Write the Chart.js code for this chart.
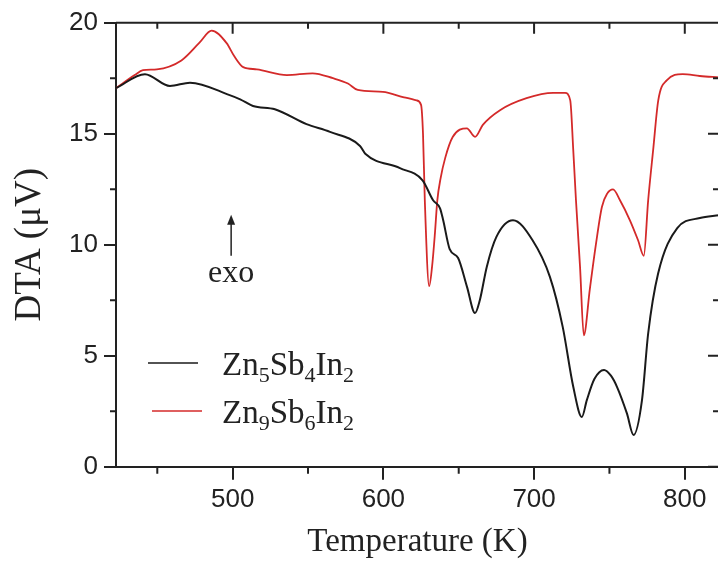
<!DOCTYPE html>
<html>
<head>
<title>DTA curves</title>
<style>
  html, body { margin: 0; padding: 0; overflow: hidden; background: #fff; }
</style>
</head>
<body>
<canvas id="dta" width="722" height="562"></canvas>
<script src="https://cdn.jsdelivr.net/npm/chart.js"></script>
<script>
// series names (digits become subscripts)
const names = ["Zn5Sb4In2", "Zn9Sb6In2"];

// Zn5Sb4In2 (black)
const tempA = [422.6, 441.8, 458.4, 471.7, 498, 505, 513.5, 528, 549, 564.6, 584.5, 588, 611, 626, 633, 637.6,
  639.7, 644, 649.6, 655.5, 660.8, 664, 668.6, 675, 686, 699, 710.5, 719, 726, 731.7, 735, 740, 746.4, 751, 755,
  761.6, 766, 771.6, 775.7, 782.3, 795, 810, 822.7];
const dtaA = [17.05, 17.68, 17.15, 17.3, 16.74, 16.55, 16.25, 16.1, 15.43, 15.08, 14.45, 14.1, 13.45, 12.9, 12.0, 11.64,
  11.1, 9.8, 9.4, 8.1, 6.92, 7.5, 9.0, 10.35, 11.1, 10.2, 8.55, 6.3, 3.6, 2.24, 3.0, 3.95, 4.36, 4.1, 3.6,
  2.4, 1.43, 3.0, 6.0, 8.7, 10.75, 11.2, 11.33];

// Zn9Sb6In2 (red)
const tempB = [422.6, 435, 440.5, 449.7, 466, 478, 486, 496, 501, 507, 516, 536, 553, 566.5, 576.5, 583, 599.7,
  613, 622, 625, 626.3, 627.5, 630.4, 632.3, 634.2, 635.8, 638, 641, 646, 655.4, 660.8, 666, 677.4, 695, 712.7, 720.6,
  724, 726, 727.8, 730.5, 733, 737, 741, 745, 748.5, 752.4, 757, 763.6, 769, 772.8, 775.7, 779, 782.4, 788,
  798.6, 810, 822.7];
const dtaB = [17.05, 17.64, 17.86, 17.9, 18.3, 19.1, 19.64, 19.08, 18.5, 18.0, 17.9, 17.64, 17.72, 17.5, 17.26, 16.97, 16.88,
  16.65, 16.5, 16.3, 15.0, 12.0, 8.13, 9.0, 10.5, 12.0, 13.0, 13.9, 14.85, 15.24, 14.86, 15.4, 16.06, 16.6, 16.84, 16.84,
  16.5, 14.26, 12.0, 9.0, 5.92, 8.0, 10.0, 11.7, 12.3, 12.49, 12.0, 11.1, 10.2, 9.5, 12.0, 14.26, 16.5, 17.4,
  17.68, 17.6, 17.54];

// axis ticks
const xMajor = [500, 600, 700, 800];
const xMinor = [450, 550, 650, 750];
const yMajor = [0, 5, 10, 15, 20];
const yMinor = [2.5, 7.5, 12.5, 17.5];

// "exo" arrow annotation (data coords)
const exoT = 499, exoFrom = 9.5, exoTo = 11.35, exoTextV = 8.3;

const ink = '#222';
const colors = ['#1a1a1a', '#d42a2a'];

function pts(xs, ys) { return xs.map((t, i) => ({ x: t, y: ys[i] })); }

const decor = {
  id: 'decor',
  afterDraw(chart) {
    const { ctx, chartArea: a, scales: { x, y } } = chart;
    ctx.save();
    ctx.strokeStyle = ink;
    ctx.lineWidth = 2;
    ctx.beginPath();
    // top and right frame
    ctx.moveTo(a.left, a.top); ctx.lineTo(a.right, a.top); ctx.lineTo(a.right, a.bottom);
    xMajor.forEach(v => { const p = x.getPixelForValue(v); ctx.moveTo(p, a.top); ctx.lineTo(p, a.top + 11); });
    xMinor.forEach(v => {
      const p = x.getPixelForValue(v);
      ctx.moveTo(p, a.top); ctx.lineTo(p, a.top + 6);
      ctx.moveTo(p, a.bottom); ctx.lineTo(p, a.bottom + 7);
    });
    yMajor.forEach(v => { const p = y.getPixelForValue(v); ctx.moveTo(a.right, p); ctx.lineTo(a.right - 11, p); });
    yMinor.forEach(v => {
      const p = y.getPixelForValue(v);
      ctx.moveTo(a.right, p); ctx.lineTo(a.right - 6, p);
      ctx.moveTo(a.left, p); ctx.lineTo(a.left - 6, p);
    });
    ctx.stroke();

    // exo arrow
    const ax = x.getPixelForValue(exoT);
    const y1 = y.getPixelForValue(exoFrom), y2 = y.getPixelForValue(exoTo);
    ctx.lineWidth = 1.5;
    ctx.beginPath(); ctx.moveTo(ax, y1); ctx.lineTo(ax, y2 + 6); ctx.stroke();
    ctx.fillStyle = ink;
    ctx.beginPath(); ctx.moveTo(ax, y2); ctx.lineTo(ax - 4, y2 + 10); ctx.lineTo(ax + 4, y2 + 10); ctx.closePath(); ctx.fill();
    ctx.font = '32px "Liberation Serif"';
    ctx.textAlign = 'center';
    ctx.textBaseline = 'alphabetic';
    ctx.fillText('exo', ax, y.getPixelForValue(exoTextV));

    // legend with subscripts
    const legX = [148, 152], legY = [363, 411];
    chart.data.datasets.forEach((ds, i) => {
      ctx.strokeStyle = ds.borderColor;
      ctx.lineWidth = 1.5;
      ctx.beginPath(); ctx.moveTo(legX[i], legY[i]); ctx.lineTo(legX[i] + 50, legY[i]); ctx.stroke();
      let tx = 222;
      const base = legY[i] + 12;
      ctx.textAlign = 'left';
      ctx.fillStyle = ink;
      ds.label.match(/\d+|\D+/g).forEach(seg => {
        if (/\d/.test(seg)) {
          ctx.font = '22px "Liberation Serif"';
          ctx.fillText(seg, tx, base + 7);
        } else {
          ctx.font = '33px "Liberation Serif"';
          ctx.fillText(seg, tx, base);
        }
        tx += ctx.measureText(seg).width;
      });
    });
    ctx.restore();
  }
};

new Chart(document.getElementById('dta').getContext('2d'), {
  type: 'line',
  data: {
    datasets: [
      { label: names[0], data: pts(tempA, dtaA), borderColor: colors[0], borderWidth: 2,
        pointRadius: 0, cubicInterpolationMode: 'monotone' },
      { label: names[1], data: pts(tempB, dtaB), borderColor: colors[1], borderWidth: 1.8,
        pointRadius: 0, cubicInterpolationMode: 'monotone' }
    ]
  },
  options: {
    responsive: false,
    animation: false,
    layout: { padding: { top: 22.7, right: 3, left: 0, bottom: 0 } },
    plugins: { legend: { display: false }, tooltip: { enabled: false } },
    scales: {
      x: {
        type: 'linear', min: 422.6, max: 822.7,
        afterBuildTicks: s => { s.ticks = xMajor.map(v => ({ value: v })); },
        afterFit: s => { s.height = 95.3; },
        border: { display: true, color: ink, width: 2 },
        grid: { display: true, drawOnChartArea: false, drawTicks: true, tickLength: 13, color: ink, lineWidth: 2 },
        ticks: { padding: 5, color: ink, font: { family: 'Liberation Sans', size: 26 } },
        title: { display: true, text: 'Temperature (K)', color: ink,
          font: { family: 'Liberation Serif', size: 33 }, padding: { top: 0, bottom: 0 } }
      },
      y: {
        min: 0, max: 20,
        afterBuildTicks: s => { s.ticks = yMajor.map(v => ({ value: v })); },
        afterFit: s => { s.width = 116; },
        border: { display: true, color: ink, width: 2 },
        grid: { display: true, drawOnChartArea: false, drawTicks: true, tickLength: 12, color: ink, lineWidth: 2 },
        ticks: { padding: 6, color: ink, font: { family: 'Liberation Sans', size: 26 } },
        title: { display: true, text: 'DTA (μV)', color: ink,
          font: { family: 'Liberation Serif', size: 37 }, padding: { top: 8, bottom: 0 } }
      }
    }
  },
  plugins: [decor]
});
</script>
</body>
</html>
